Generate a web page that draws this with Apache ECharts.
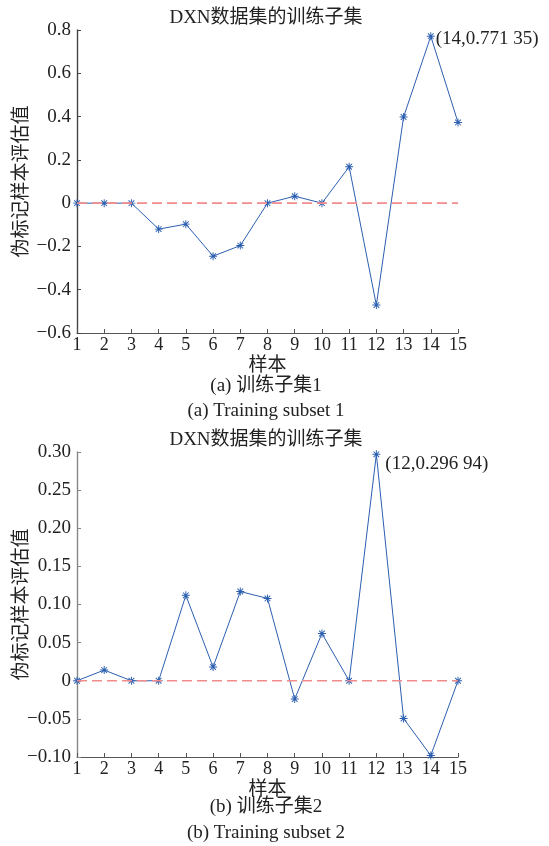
<!DOCTYPE html>
<html>
<head>
<meta charset="utf-8">
<script src="https://cdn.jsdelivr.net/npm/echarts@6/dist/echarts.min.js"></script>
<style>
  html, body { margin: 0; padding: 0; background: #fff; }
  #main { width: 549px; height: 846px; }
</style>
</head>
<body>
<div id="main"></div>
<script>
// 样本序号
var samples = [1, 2, 3, 4, 5, 6, 7, 8, 9, 10, 11, 12, 13, 14, 15];
// (a) 训练子集1
var subset1 = [0, 0, 0, -0.12, -0.097, -0.245, -0.196, 0, 0.032, 0, 0.168, -0.471, 0.398, 0.77135, 0.373];
// (b) 训练子集2
var subset2 = [0, 0.014, 0, 0, 0.112, 0.018, 0.117, 0.108, -0.024, 0.062, 0, 0.29694, -0.0495, -0.098, 0];
var zeroLine = [0, 0, 0, 0, 0, 0, 0, 0, 0, 0, 0, 0, 0, 0, 0];

var yTicks1 = [-0.6, -0.4, -0.2, 0, 0.2, 0.4, 0.6, 0.8];
var yTicks2 = [-0.10, -0.05, 0, 0.05, 0.10, 0.15, 0.20, 0.25, 0.30];

var serif = "'Liberation Serif', 'Noto Sans CJK SC', serif";
var blue = '#2c5fb0';
var red = '#f28b8b';
var star = 'path://M0 4.4L10 4.4L10 5.6L0 5.6Z' +
    'M5.6 0L5.6 10L4.4 10L4.4 0Z' +
    'M1.888 1.04L8.96 8.112L8.112 8.96L1.04 1.888Z' +
    'M8.96 1.888L1.888 8.96L1.04 8.112L8.112 1.04Z';

function pairs(ys) {
    return samples.map(function (x, i) { return [x, ys[i]]; });
}

function fmtNum(v, dec) {
    if (Math.abs(v) < 1e-9) return '0';
    return (v < 0 ? '\u2212' : '') + Math.abs(v).toFixed(dec);
}

// (14,0.771 35) style
function peakText(x, v) {
    var s = v.toFixed(5);
    return '(' + x + ',' + s.slice(0, 5) + ' ' + s.slice(5) + ')';
}

function withPeak(ys, offset) {
    var idx = 0;
    ys.forEach(function (v, i) { if (v > ys[idx]) idx = i; });
    return pairs(ys).map(function (p, i) {
        if (i !== idx) return p;
        return {
            value: p,
            label: {
                show: true,
                position: 'right',
                offset: offset,
                distance: 1,
                formatter: peakText(p[0], p[1]),
                fontFamily: serif,
                fontSize: 19,
                color: '#222'
            }
        };
    });
}

function xAxis(gridIndex) {
    return {
        type: 'value', gridIndex: gridIndex, min: 1, max: 15, interval: 1,
        name: '样本', nameLocation: 'middle', nameGap: 24,
        nameTextStyle: { fontFamily: serif, fontSize: 19, color: '#222' },
        axisLine: { onZero: false, lineStyle: { color: '#555', width: 1.2 } },
        axisTick: { inside: true, length: 4, lineStyle: { color: '#555' } },
        axisLabel: { fontFamily: serif, fontSize: 18, color: '#222', margin: 3 },
        splitLine: { show: false }
    };
}

function yAxis(gridIndex, ticks, dec, color) {
    return {
        type: 'value', gridIndex: gridIndex,
        min: ticks[0], max: ticks[ticks.length - 1],
        interval: ticks[1] - ticks[0],
        name: '伪标记样本评估值', nameLocation: 'middle', nameGap: 45,
        nameMoveOverlap: false,
        nameTextStyle: { fontFamily: serif, fontSize: 19, color: '#222' },
        axisLine: { show: true, onZero: false, lineStyle: { color: color, width: 1.4 } },
        axisTick: { show: true, inside: true, length: 4, lineStyle: { color: color } },
        axisLabel: {
            fontFamily: serif, fontSize: 19, color: '#222', margin: 6,
            formatter: function (v) { return fmtNum(v, dec); }
        },
        splitLine: { show: false }
    };
}

function lineSeries(idx, ys, offset) {
    return {
        type: 'line', xAxisIndex: idx, yAxisIndex: idx,
        data: withPeak(ys, offset),
        symbol: star, symbolSize: 8, showAllSymbol: true,
        itemStyle: { color: blue },
        lineStyle: { color: blue, width: 1 },
        z: 2
    };
}

function zeroSeries(idx) {
    return {
        type: 'line', xAxisIndex: idx, yAxisIndex: idx,
        data: pairs(zeroLine), symbol: 'none', silent: true,
        lineStyle: { color: red, width: 1.6, type: [10, 5] },
        z: 3
    };
}

var chart = echarts.init(document.getElementById('main'));

var titleStyle = { fontFamily: serif, fontSize: 19, fontWeight: 'normal', color: '#222' };
function caption(text, top) {
    return { text: text, left: 261, top: top, textAlign: 'center', textStyle: titleStyle };
}

chart.setOption({
    animation: false,
    title: [
        caption('DXN数据集的训练子集', 4),
        caption('(a) 训练子集1', 372),
        caption('(a) Training subset 1', 397),
        caption('DXN数据集的训练子集', 426),
        caption('(b) 训练子集2', 793),
        caption('(b) Training subset 2', 819)
    ],
    grid: [
        { left: 77, right: 91, top: 30, height: 303, outerBoundsMode: 'none' },
        { left: 77, right: 91, top: 452, height: 305, outerBoundsMode: 'none' }
    ],
    xAxis: [xAxis(0), xAxis(1)],
    yAxis: [yAxis(0, yTicks1, 1, '#444'), yAxis(1, yTicks2, 2, '#888')],
    series: [
        lineSeries(0, subset1, [0, 3]),
        zeroSeries(0),
        lineSeries(1, subset2, [4, 10]),
        zeroSeries(1)
    ]
});
</script>
</body>
</html>
